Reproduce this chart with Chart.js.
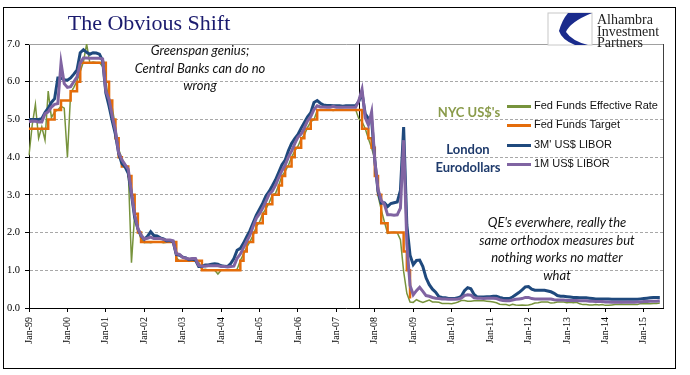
<!DOCTYPE html>
<html>
<head>
<meta charset="utf-8">
<title>The Obvious Shift</title>
<script src="https://cdn.jsdelivr.net/npm/chart.js@4.4.0/dist/chart.umd.min.js"></script>
<style>
body { margin: 0; background: #fff; }
#wrap { position: relative; width: 690px; height: 375px; overflow: hidden; background: #fff; }
#chart_rates { position: absolute; left: 0; top: 0; }
.frame { position: absolute; left: 3px; top: 7px; width: 671px; height: 360px; border: 1px solid #000; pointer-events: none; }
.title { position: absolute; left: 39px; width: 220px; top: 12px; line-height: 22px; text-align: center; font-family: "Liberation Serif", serif; font-size: 22px; color: #1b1b6e; }
.logo_text { position: absolute; left: 597px; top: 14px; font-family: "Liberation Serif", serif; font-size: 14px; line-height: 11.7px; color: #222; }
.note { position: absolute; font-family: Lato, sans-serif; font-style: italic; font-size: 13px; line-height: 17.5px; text-align: center; color: #111; white-space: nowrap; }
.tag { position: absolute; font-family: Lato, sans-serif; font-weight: bold; font-size: 13px; line-height: 18px; text-align: center; white-space: nowrap; }
.legend_row { position: absolute; left: 507px; height: 12px; font-family: "Liberation Sans", Arial, sans-serif; font-size: 11px; color: #111; }
.legend_row .swatch { position: absolute; left: 0; top: 5px; width: 24px; height: 3px; }
.legend_row .txt { position: absolute; left: 27px; top: -1px; white-space: nowrap; }
</style>
</head>
<body>
<div id="wrap">
        <canvas id="chart_rates" width="690" height="375"></canvas>
        <div class="frame"></div>
        <div class="title">The Obvious Shift</div>
        <svg style="position:absolute;left:547px;top:12px" width="47" height="35" viewBox="547 12 47 35">
                <rect x="548" y="13" width="44" height="32" fill="#fff" stroke="#c8c8c8" stroke-width="1"/>
                <path d="M568,13 L592,13 Q570,22 566,32 Q572,41 588,45 L575,45 Q562,40 559,31 Q562,20 568,13 Z" fill="#1a2b8c"/>
        </svg>
        <div class="logo_text">Alhambra<br>Investment<br>Partners</div>

        <div class="note" style="left:120px;width:160px;top:42px">Greenspan genius;<br>Central Banks can do no<br>wrong</div>
        <div class="note" style="left:467px;width:180px;top:214px">QE's everwhere, really the<br>same orthodox measures but<br>nothing works no matter<br>what</div>

        <div class="tag" style="left:429px;width:80px;top:103px;color:#8a9b4b">NYC US$'s</div>
        <div class="tag" style="left:428px;width:80px;top:140px;color:#1f3b6c">London<br>Eurodollars</div>

        <div id="legend_box"></div>
</div>
<script>
// monthly series, Jan-99 .. Jun-15 (fed target stops at Dec-08)
var month_names = ["Jan","Feb","Mar","Apr","May","Jun","Jul","Aug","Sep","Oct","Nov","Dec"];
var first_year = 1999;
var last_year = 2015;
var last_month = 6; // axis runs to Jul-15
var shift_month = "Aug-07";

var series_names = ["Fed Funds Effective Rate", "Fed Funds Target", "3M' US$ LIBOR", "1M US$ LIBOR"];
var series_colors = ["#77933c", "#e46c0a", "#1f497d", "#8064a2"];

var fed_effective = [
        4.05, 4.85, 5.40, 4.50, 4.80, 4.45, 5.75, 5.05, 5.20, 5.25, 5.35, 5.30,
        4.00, 5.70, 5.85, 6.02, 6.27, 6.53, 7.00, 6.50, 6.52, 6.51, 6.51, 6.40,
        5.98, 5.49, 5.31, 4.80, 4.21, 3.97, 3.77, 3.65, 1.20, 2.49, 2.09, 1.82,
        1.73, 1.74, 1.73, 1.75, 1.75, 1.75, 1.73, 1.74, 1.75, 1.75, 1.34, 1.24,
        1.24, 1.26, 1.25, 1.26, 1.26, 1.22, 1.01, 1.03, 1.01, 1.01, 1.00, 0.90,
        1.00, 1.01, 1.00, 1.00, 1.00, 1.03, 1.26, 1.43, 1.61, 1.76, 1.93, 2.16,
        2.28, 2.50, 2.63, 2.79, 3.00, 3.04, 3.26, 3.50, 3.62, 3.78, 4.00, 4.16,
        4.29, 4.49, 4.59, 4.79, 4.94, 4.99, 5.24, 5.25, 5.25, 5.25, 5.25, 5.24,
        5.25, 5.26, 5.26, 5.25, 5.25, 5.25, 5.26, 5.02, 4.94, 4.76, 4.49, 4.24,
        3.94, 2.98, 2.61, 2.28, 1.98, 2.00, 2.01, 2.00, 1.81, 0.97, 0.39, 0.16,
        0.15, 0.22, 0.18, 0.15, 0.18, 0.21, 0.16, 0.16, 0.15, 0.12, 0.12, 0.12,
        0.11, 0.13, 0.16, 0.20, 0.20, 0.18, 0.18, 0.19, 0.19, 0.19, 0.19, 0.18,
        0.17, 0.16, 0.14, 0.10, 0.09, 0.09, 0.07, 0.10, 0.08, 0.07, 0.08, 0.07,
        0.08, 0.10, 0.13, 0.14, 0.16, 0.16, 0.16, 0.13, 0.14, 0.16, 0.16, 0.16,
        0.14, 0.15, 0.14, 0.15, 0.11, 0.09, 0.09, 0.08, 0.08, 0.09, 0.08, 0.09,
        0.07, 0.07, 0.08, 0.09, 0.09, 0.10, 0.09, 0.09, 0.09, 0.09, 0.09, 0.12,
        0.11, 0.11, 0.11, 0.12, 0.12, 0.13
];

var fed_target = [
        4.75, 4.75, 4.75, 4.75, 4.75, 4.75, 5.00, 5.00, 5.25, 5.25, 5.50, 5.50,
        5.50, 5.75, 5.75, 6.00, 6.50, 6.50, 6.50, 6.50, 6.50, 6.50, 6.50, 6.50,
        6.00, 5.50, 5.00, 4.50, 4.00, 3.75, 3.75, 3.50, 3.00, 2.50, 2.00, 1.75,
        1.75, 1.75, 1.75, 1.75, 1.75, 1.75, 1.75, 1.75, 1.75, 1.75, 1.25, 1.25,
        1.25, 1.25, 1.25, 1.25, 1.25, 1.25, 1.00, 1.00, 1.00, 1.00, 1.00, 1.00,
        1.00, 1.00, 1.00, 1.00, 1.00, 1.00, 1.25, 1.50, 1.75, 1.75, 2.00, 2.25,
        2.25, 2.50, 2.75, 2.75, 3.00, 3.00, 3.25, 3.50, 3.75, 3.75, 4.00, 4.25,
        4.25, 4.50, 4.75, 4.75, 5.00, 5.00, 5.25, 5.25, 5.25, 5.25, 5.25, 5.25,
        5.25, 5.25, 5.25, 5.25, 5.25, 5.25, 5.25, 5.25, 4.75, 4.75, 4.50, 4.25,
        3.50, 3.00, 2.25, 2.25, 2.00, 2.00, 2.00, 2.00, 2.00, 1.50, 1.00, 0.25
];

var libor_3m = [
        5.00, 5.00, 5.00, 5.00, 5.02, 5.18, 5.30, 5.45, 5.55, 6.10, 6.10, 6.05,
        6.04, 6.10, 6.20, 6.31, 6.77, 6.85, 6.78, 6.73, 6.77, 6.76, 6.73, 6.56,
        5.70, 5.35, 4.96, 4.60, 4.10, 3.83, 3.74, 3.57, 3.01, 2.40, 2.10, 1.92,
        1.82, 1.90, 2.02, 1.92, 1.91, 1.86, 1.83, 1.78, 1.79, 1.76, 1.42, 1.40,
        1.35, 1.33, 1.28, 1.30, 1.27, 1.10, 1.10, 1.14, 1.14, 1.16, 1.17, 1.16,
        1.12, 1.11, 1.10, 1.18, 1.31, 1.53, 1.58, 1.72, 1.89, 2.05, 2.26, 2.46,
        2.62, 2.78, 2.97, 3.09, 3.24, 3.40, 3.60, 3.80, 3.92, 4.17, 4.36, 4.49,
        4.60, 4.77, 4.92, 5.07, 5.18, 5.45, 5.50, 5.43, 5.38, 5.37, 5.37, 5.36,
        5.36, 5.36, 5.35, 5.36, 5.36, 5.36, 5.36, 5.48, 5.70, 5.15, 5.02, 4.98,
        3.92, 3.09, 2.78, 2.79, 2.69, 2.77, 2.79, 2.81, 3.12, 4.80, 2.20, 1.40,
        1.15, 1.26, 1.27, 1.10, 0.80, 0.62, 0.50, 0.42, 0.30, 0.28, 0.27, 0.25,
        0.25, 0.25, 0.27, 0.31, 0.46, 0.54, 0.51, 0.36, 0.29, 0.29, 0.29, 0.30,
        0.30, 0.31, 0.31, 0.28, 0.26, 0.25, 0.25, 0.29, 0.35, 0.41, 0.48, 0.56,
        0.57, 0.50, 0.47, 0.47, 0.47, 0.47, 0.45, 0.43, 0.39, 0.33, 0.31, 0.31,
        0.30, 0.29, 0.28, 0.28, 0.27, 0.27, 0.27, 0.26, 0.25, 0.24, 0.24, 0.24,
        0.24, 0.24, 0.23, 0.23, 0.23, 0.23, 0.23, 0.23, 0.23, 0.23, 0.23, 0.24,
        0.25, 0.26, 0.27, 0.28, 0.28, 0.28
];

var libor_1m = [
        4.94, 4.96, 4.95, 4.93, 4.93, 5.15, 5.20, 5.33, 5.40, 5.42, 6.50, 5.95,
        5.85, 5.87, 6.00, 6.13, 6.50, 6.63, 6.63, 6.62, 6.62, 6.62, 6.62, 6.60,
        5.75, 5.53, 5.09, 4.70, 4.12, 3.93, 3.80, 3.68, 3.06, 2.48, 2.11, 1.93,
        1.83, 1.85, 1.88, 1.84, 1.84, 1.84, 1.82, 1.80, 1.80, 1.78, 1.44, 1.42,
        1.34, 1.32, 1.30, 1.31, 1.31, 1.13, 1.11, 1.11, 1.12, 1.12, 1.12, 1.12,
        1.10, 1.10, 1.09, 1.10, 1.11, 1.32, 1.43, 1.60, 1.77, 1.93, 2.16, 2.38,
        2.50, 2.65, 2.83, 3.02, 3.10, 3.26, 3.46, 3.64, 3.79, 4.00, 4.16, 4.36,
        4.53, 4.61, 4.78, 4.96, 5.08, 5.26, 5.36, 5.33, 5.33, 5.32, 5.32, 5.35,
        5.32, 5.32, 5.32, 5.32, 5.32, 5.32, 5.32, 5.50, 5.80, 5.05, 4.85, 5.20,
        3.90, 3.15, 2.85, 2.75, 2.47, 2.47, 2.46, 2.47, 2.65, 4.45, 1.70, 0.60,
        0.35, 0.46, 0.55, 0.44, 0.33, 0.31, 0.28, 0.26, 0.25, 0.24, 0.24, 0.23,
        0.23, 0.23, 0.24, 0.26, 0.33, 0.35, 0.34, 0.27, 0.26, 0.26, 0.25, 0.26,
        0.26, 0.26, 0.25, 0.22, 0.20, 0.19, 0.19, 0.21, 0.23, 0.24, 0.25, 0.28,
        0.28, 0.25, 0.24, 0.24, 0.24, 0.24, 0.24, 0.24, 0.22, 0.21, 0.21, 0.21,
        0.20, 0.20, 0.20, 0.20, 0.19, 0.19, 0.19, 0.18, 0.18, 0.17, 0.17, 0.17,
        0.16, 0.16, 0.15, 0.15, 0.15, 0.15, 0.15, 0.16, 0.15, 0.15, 0.16, 0.16,
        0.17, 0.17, 0.18, 0.18, 0.18, 0.19
];

var y_ticks = [0, 1, 2, 3, 4, 5, 6, 7];

function build_month_labels() {
        var labels = [];
        for (let y = first_year; y <= last_year; y++) {
                for (let m = 0; m < 12; m++) {
                        if (y === last_year && m > last_month) {
                                return labels;
                        }
                        labels.push(month_names[m] + "-" + String(y).slice(2));
                }
        }
        return labels;
}

var month_labels = build_month_labels();

function build_legend() {
        var box = document.getElementById("legend_box");
        var rows_y = [100, 119, 139, 158];
        for (let i = 0; i < series_names.length; i++) {
                var row = document.createElement("div");
                row.className = "legend_row";
                row.style.top = rows_y[i] + "px";
                row.innerHTML = '<span class="swatch" style="background:' + series_colors[i] + '"></span>' +
                        '<span class="txt">' + series_names[i] + '</span>';
                box.appendChild(row);
        }
}

var frame_plugin = {
        id: "frame_plugin",
        beforeDatasetsDraw: function(chart) {
                var ctx = chart.ctx;
                var area = chart.chartArea;
                ctx.save();
                ctx.lineWidth = 1;
                ctx.strokeStyle = "#a0a0a0";
                ctx.beginPath();
                ctx.moveTo(area.left, Math.round(area.top) + 0.5);
                ctx.lineTo(Math.round(area.right) + 0.5, Math.round(area.top) + 0.5);
                ctx.stroke();
                ctx.strokeStyle = "#404040";
                ctx.beginPath();
                ctx.moveTo(Math.round(area.right) + 0.5, area.top);
                ctx.lineTo(Math.round(area.right) + 0.5, area.bottom);
                ctx.stroke();

                // the august 2007 break
                var shift_x = Math.round(chart.scales.x.getPixelForValue(month_labels.indexOf(shift_month))) + 0.5;
                ctx.strokeStyle = "#000";
                ctx.beginPath();
                ctx.moveTo(shift_x, area.top);
                ctx.lineTo(shift_x, area.bottom);
                ctx.stroke();
                ctx.restore();
        }
};

function make_dataset(i, values, width, order) {
        return {
                label: series_names[i],
                data: values,
                borderColor: series_colors[i],
                backgroundColor: series_colors[i],
                borderWidth: width,
                pointRadius: 0,
                tension: 0,
                fill: false,
                order: order
        };
}

function init_chart() {
        var target_set = make_dataset(1, fed_target, 2.5, 3);
        target_set.stepped = true;

        new Chart("chart_rates", {
                type: "line",
                data: {
                        labels: month_labels,
                        datasets: [
                                make_dataset(0, fed_effective, 1.5, 4),
                                target_set,
                                make_dataset(2, libor_3m, 3, 2),
                                make_dataset(3, libor_1m, 3, 1)
                        ]
                },
                options: {
                        responsive: false,
                        animation: false,
                        layout: { padding: { top: 44, right: 27, left: 0, bottom: 0 } },
                        plugins: {
                                legend: { display: false },
                                tooltip: { enabled: false }
                        },
                        scales: {
                                x: {
                                        afterFit: function(scale) { scale.height = 67; },
                                        border: { color: "#000", width: 1 },
                                        grid: {
                                                drawOnChartArea: false,
                                                tickLength: 4,
                                                tickColor: "#000"
                                        },
                                        ticks: {
                                                autoSkip: false,
                                                maxRotation: 90,
                                                minRotation: 90,
                                                padding: 5,
                                                color: "#000",
                                                font: { family: "'Liberation Serif', serif", size: 10 },
                                                callback: function(value) {
                                                        var label = this.getLabelForValue(value);
                                                        return label.indexOf("Jan") === 0 ? label : null;
                                                }
                                        }
                                },
                                y: {
                                        min: y_ticks[0],
                                        max: y_ticks[y_ticks.length - 1],
                                        afterFit: function(scale) { scale.width = 29; },
                                        afterBuildTicks: function(scale) {
                                                scale.ticks = y_ticks.map(function(v) { return { value: v }; });
                                        },
                                        border: { color: "#000", width: 1, dash: [3, 2] },
                                        grid: {
                                                color: function(c) {
                                                        if (!c.tick) return "transparent";
                                                        var v = c.tick.value;
                                                        return (v === y_ticks[0] || v === y_ticks[y_ticks.length - 1]) ? "transparent" : "#a8a8a8";
                                                },
                                                tickLength: 4,
                                                tickColor: "#000",
                                                tickBorderDash: []
                                        },
                                        ticks: {
                                                padding: 5,
                                                color: "#000",
                                                font: { family: "'Liberation Serif', serif", size: 10.5 },
                                                callback: function(v) { return Number(v).toFixed(1); }
                                        }
                                }
                        }
                },
                plugins: [frame_plugin]
        });
}

build_legend();
init_chart();
</script>
</body>
</html>
